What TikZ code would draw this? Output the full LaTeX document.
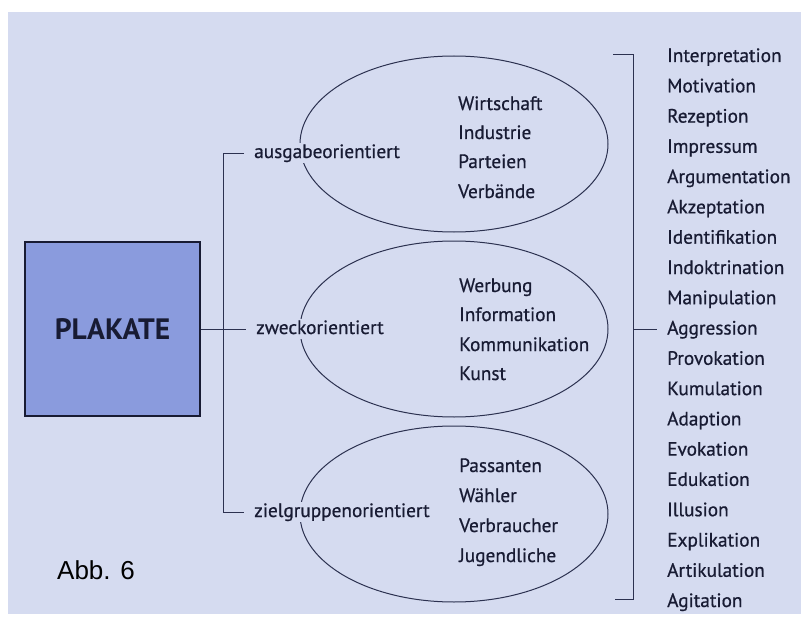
\documentclass[tikz,border=0pt]{standalone}
\usepackage{fontspec}
\setmainfont{PT Sans}
\newfontfamily\itemfont{PT Sans}[BoldFont=PT Sans, BoldFeatures={FakeBold=0.7}]
\newfontfamily\abbfont{Liberation Sans}
\usetikzlibrary{shapes.geometric}

\definecolor{pagebg}{HTML}{D5DBF0}
\definecolor{boxblue}{HTML}{8A9BDD}
\definecolor{inkblue}{HTML}{181B33}
\definecolor{linegray}{HTML}{2C3150}

\tikzset{
  plakatbox/.style={draw=inkblue, line width=1.1pt, fill=boxblue, minimum width=175pt,
    minimum height=174pt, inner sep=0pt, text=inkblue, font=\fontsize{29.5}{31}\selectfont\bfseries},
  groupoval/.style={ellipse, draw=linegray, line width=1pt, minimum width=308pt, minimum height=176pt},
  kindlabel/.style={anchor=west, fill=pagebg, inner xsep=10pt, inner ysep=1pt, text=inkblue,
    text height=14pt, text depth=4pt, font=\itemfont\bfseries\fontsize{19.3}{21}\selectfont},
  itemtext/.style={anchor=west, inner sep=0pt, text=inkblue, text height=14pt, text depth=4pt,
    font=\itemfont\bfseries\fontsize{19.3}{21}\selectfont},
  effecttext/.style={itemtext, inner xsep=10pt},
  bracketline/.style={draw=linegray, line width=1pt},
}

\begin{document}
\begin{tikzpicture}[x=1pt,y=-1pt]
  \useasboundingbox (0,0) rectangle (807,618);
  \fill[pagebg] (8,12) rectangle (801,614);

  % the poster box
  \node[plakatbox] (plakate) at (112.5,329) {PLAKATE};

  % the three ovals
  \node[groupoval] (ovalA) at (454,144) {};
  \node[groupoval] (ovalB) at (454,329) {};
  \node[groupoval] (ovalC) at (454,514) {};

  % kinds of orientation
  \node[kindlabel] (ausgabe) at (244,153) {ausgabeorientiert};
  \node[kindlabel] (zweck) at (246,329) {zweckorientiert};
  \node[kindlabel] (ziel) at (244,512) {zielgruppenorientiert};

  \coordinate (trunkTop) at (223,153);
  \coordinate (trunkBot) at (223,512);
  \draw[bracketline] (ausgabe.west) -- (trunkTop) -- (trunkBot) -- (ziel.west);
  \draw[bracketline] (plakate.east) -- (zweck.west);

  % contents of the ovals
  \node[itemtext] (wirt) at (458,105) {Wirtschaft};
  \node[itemtext] (indu) at (458,134) {Industrie};
  \node[itemtext] (part) at (458,163) {Parteien};
  \node[itemtext] (verb) at (458,193) {Verbände};

  \node[itemtext] (werb) at (459,287) {Werbung};
  \node[itemtext] (info) at (459,316) {Information};
  \node[itemtext] (komm) at (459,346) {Kommunikation};
  \node[itemtext] (kuns) at (459,375) {Kunst};

  \node[itemtext] (pass) at (459,467) {Passanten};
  \node[itemtext] (waeh) at (459,497) {Wähler};
  \node[itemtext] (verbr) at (459,527) {Verbraucher};
  \node[itemtext] (jugd) at (459,557) {Jugendliche};

  % effects on the right
  \node[effecttext] (e1) at (657,57) {Interpretation};
  \node[effecttext] (e2) at (657,87.3) {Motivation};
  \node[effecttext] (e3) at (657,117.6) {Rezeption};
  \node[effecttext] (e4) at (657,147.8) {Impressum};
  \node[effecttext] (e5) at (657,178.1) {Argumentation};
  \node[effecttext] (e6) at (657,208.4) {Akzeptation};
  \node[effecttext] (e7) at (657,238.7) {Identifikation};
  \node[effecttext] (e8) at (657,269) {Indoktrination};
  \node[effecttext] (e9) at (657,299.2) {Manipulation};
  \node[effecttext] (e10) at (657,329.5) {Aggression};
  \node[effecttext] (e11) at (657,359.8) {Provokation};
  \node[effecttext] (e12) at (657,390.1) {Kumulation};
  \node[effecttext] (e13) at (657,420.4) {Adaption};
  \node[effecttext] (e14) at (657,450.6) {Evokation};
  \node[effecttext] (e15) at (657,480.9) {Edukation};
  \node[effecttext] (e16) at (657,511.2) {Illusion};
  \node[effecttext] (e17) at (657,541.5) {Explikation};
  \node[effecttext] (e18) at (657,571.8) {Artikulation};
  \node[effecttext] (e19) at (657,602) {Agitation};

  \coordinate (brTopEnd) at (613,55);
  \coordinate (brTop) at (633,55);
  \coordinate (brBot) at (633,599);
  \coordinate (brBotEnd) at (615,599);
  \coordinate (brMid) at (633,329.5);
  \draw[bracketline] (brTopEnd) -- (brTop) -- (brBot) -- (brBotEnd);
  \draw[bracketline] (brMid) -- (e10.west);

  \node[anchor=west, inner sep=0pt, font=\abbfont\fontsize{26}{28}\selectfont] (abb) at (57,570) {Abb. 6};
\end{tikzpicture}
\end{document}
